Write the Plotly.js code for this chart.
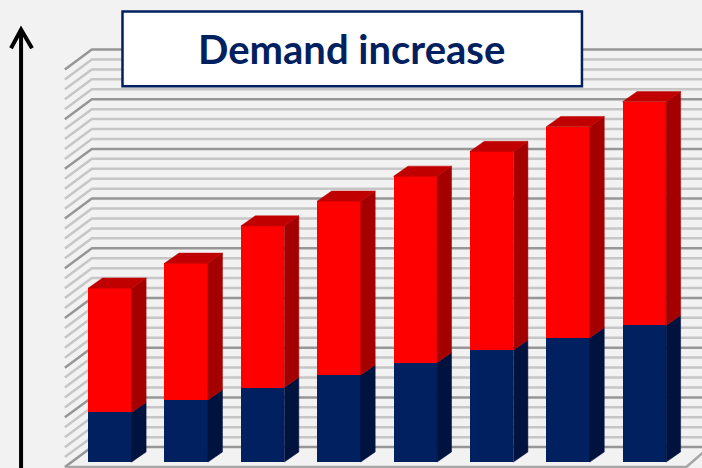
<!DOCTYPE html>
<html>
<head>
<meta charset="utf-8">
<script src="https://cdn.plot.ly/plotly-3.0.1.min.js"></script>
<style>html,body{margin:0;padding:0;background:#f2f2f2;overflow:hidden}#chart{width:702px;height:468px}</style>
</head>
<body>
<div id="chart"></div>
<script>
// Stacked demand per period
const periods = [0, 1, 2, 3, 4, 5, 6, 7];
const baseDemand = [10, 12.5, 15, 17.5, 20, 22.5, 25, 27.5];
const addedDemand = [25, 27.5, 32.5, 35, 37.5, 40, 42.5, 45];
const titleText = 'Demand increase';

// Gridline levels on the back wall, in value units
const wallLevels = [];
for (let g = 0; g <= 80; g += 2) wallLevels.push(g);

// Extruded look: offsets expressed in axis units
const barWidth = 0.57;
const depthX = 0.19;
const depthY = 2.05;
const wallX = -0.236, wallLift = 3.02;   // back wall corner
const frontX = -0.589, frontY = -1.0;    // front edge of the floor
const farX = 8;                          // wall runs past the right edge

const navy = '#002060', navySide = '#00133f';
const red = '#ff0000', redSide = '#a50000', redTop = '#c00000';

const totals = periods.map((_, i) => baseDemand[i] + addedDemand[i]);

function face(xs, ys, color) {
  return {type: 'scatter', mode: 'lines', x: xs, y: ys, fill: 'toself',
          fillcolor: color, line: {color: color, width: 0.5},
          hoverinfo: 'skip', showlegend: false};
}

const traces = [
  {type: 'bar', x: periods, y: baseDemand, width: barWidth,
   marker: {color: navy, line: {width: 0}}, hoverinfo: 'skip', showlegend: false},
  {type: 'bar', x: periods, y: addedDemand, width: barWidth,
   marker: {color: red, line: {width: 0}}, hoverinfo: 'skip', showlegend: false}
];

periods.forEach((p, i) => {
  const r = p + barWidth / 2, l = p - barWidth / 2;
  const b = baseDemand[i], t = totals[i];
  traces.push(face([r, r + depthX, r + depthX, r, r], [0, depthY, b + depthY, b, 0], navySide));
  traces.push(face([r, r + depthX, r + depthX, r, r], [b, b + depthY, t + depthY, t, b], redSide));
  traces.push(face([l, l + depthX, r + depthX, r, l], [t, t + depthY, t + depthY, t, t], redTop));
});

// Wall gridlines with their diagonal run down the side wall
const shapes = [];
wallLevels.forEach(g => {
  const major = g % 10 === 0;
  const y = g + wallLift;
  const sideDrop = wallLift - frontY;
  shapes.push({type: 'path', layer: 'below', xref: 'x', yref: 'y',
               path: `M ${frontX} ${y - sideDrop} L ${wallX} ${y} L ${farX} ${y}`,
               line: {color: major ? '#969696' : '#c6c6c6', width: 2.5}});
});
// Floor outline
shapes.push({type: 'path', layer: 'below', xref: 'x', yref: 'y',
  path: `M ${frontX} ${frontY} L 7.55 ${frontY} L 7.85 ${wallLift}`,
  line: {color: '#a6a6a6', width: 2.5}});

// Rising arrow on the left
shapes.push({type: 'path', layer: 'above', xref: 'paper', yref: 'paper',
  path: 'M 0.03 -0.01 L 0.03 0.935', line: {color: '#000', width: 4}});
shapes.push({type: 'path', layer: 'above', xref: 'paper', yref: 'paper',
  path: 'M 0.0157 0.897 L 0.03 0.937 L 0.0456 0.897', line: {color: '#000', width: 4}});

// Title box
shapes.push({type: 'rect', layer: 'above', xref: 'paper', yref: 'paper',
  x0: 0.1745, x1: 0.829, y0: 0.8155, y1: 0.9755,
  fillcolor: '#ffffff', line: {color: navy, width: 2.5}});

const layout = {
  width: 702, height: 468,
  margin: {l: 0, r: 0, t: 0, b: 0},
  paper_bgcolor: '#f2f2f2', plot_bgcolor: '#f2f2f2',
  barmode: 'stack',
  xaxis: {range: [-1.4385, 7.755], visible: false, fixedrange: true},
  yaxis: {range: [-1.19, 92.98], visible: false, fixedrange: true},
  showlegend: false,
  shapes: shapes,
  annotations: [{
    xref: 'paper', yref: 'paper', x: 0.5014, y: 0.896, showarrow: false,
    xanchor: 'center', yanchor: 'middle', text: '<b>' + titleText + '</b>',
    font: {family: 'Lato, sans-serif', size: 40, color: navy}
  }]
};

Plotly.newPlot('chart', traces, layout, {displayModeBar: false, staticPlot: true});
</script>
</body>
</html>
